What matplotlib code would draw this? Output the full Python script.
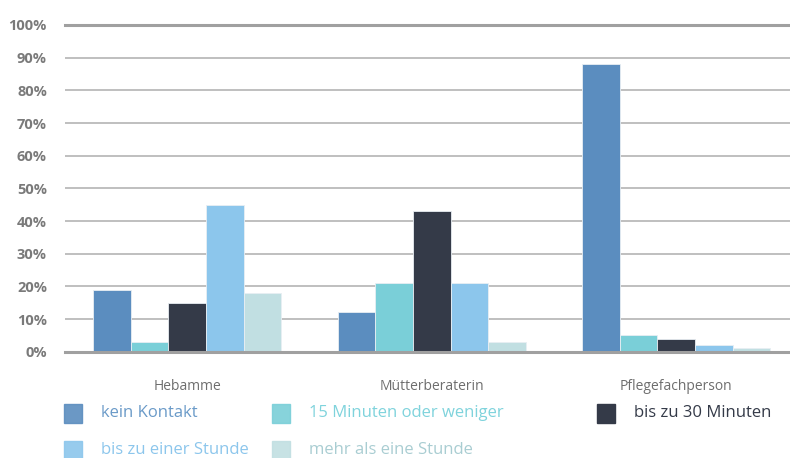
import matplotlib
matplotlib.use("Agg")
import matplotlib.pyplot as plt
import numpy as np
from matplotlib.patches import Rectangle

categories = ["Hebamme", "Mütterberaterin", "Pflegefachperson"]
series_names = ["kein Kontakt", "15 Minuten oder weniger", "bis zu 30 Minuten",
                "bis zu einer Stunde", "mehr als eine Stunde"]
values = {
    "kein Kontakt": [19, 12, 88],
    "15 Minuten oder weniger": [3, 21, 5],
    "bis zu 30 Minuten": [15, 43, 4],
    "bis zu einer Stunde": [45, 21, 2],
    "mehr als eine Stunde": [18, 3, 1],
}
yticks = [0, 10, 20, 30, 40, 50, 60, 70, 80, 90, 100]
ytick_labels = [f"{v}%" for v in yticks]

bar_colors = ["#5B8DBF", "#7ACFD8", "#343A48", "#8CC6EC", "#C1DFE2"]
text_colors = ["#6A9AC8", "#7FD3DC", "#343A48", "#8CC6EC", "#A9CDD2"]

W, H = 790, 458
fig = plt.figure(figsize=(W / 100, H / 100), dpi=100)
ax_left, ax_right = 65, 790
y0, y100 = 351.7, 25
ax = fig.add_axes([ax_left / W, (H - y0) / H, (ax_right - ax_left) / W, (y0 - y100) / H])

group_px = 244.5
xmax = -0.5 + (ax_right - ax_left) / group_px
ax.set_xlim(-0.5, xmax)
ax.set_ylim(0, 100)

x = np.arange(len(categories))
bw = 0.154
for i, name in enumerate(series_names):
    ax.bar(x + (i - 2) * bw, values[name], width=bw, color=bar_colors[i],
           edgecolor="#E8EEF3", linewidth=0.6, zorder=3)

for v in yticks:
    if v in (0, 100):
        ax.axhline(v, color="#A0A0A0", lw=2.2, zorder=4 if v == 0 else 2, clip_on=False)
    else:
        ax.axhline(v, color="#B4B4B4", lw=1.2, zorder=2)

for s in ax.spines.values():
    s.set_visible(False)
ax.set_yticks(yticks)
ax.set_yticklabels(ytick_labels, fontsize=10.5, fontweight="bold", color="#7A7A7A",
                   family="Open Sans")
ax.tick_params(axis="y", length=0, pad=13)
ax.set_xticks(x)
ax.set_xticklabels(categories, fontsize=10, color="#6E6E6E", family="Open Sans")
ax.tick_params(axis="x", length=0, pad=20)

# legend
legend_pos = [(64, 413), (272, 413), (597, 413), (64, 450), (272, 450)]
for i, name in enumerate(series_names):
    lx, ly = legend_pos[i]
    fig.patches.append(Rectangle((lx / W, (H - ly - 9.5) / H), 18 / W, 19 / H,
                                 transform=fig.transFigure, color=bar_colors[i],
                                 alpha=0.9 if i != 2 else 1.0))
    fig.text((lx + 37) / W, (H - ly) / H, name, color=text_colors[i], fontsize=12,
             family="Open Sans", va="center", ha="left")

fig.savefig("out.png", dpi=100)
